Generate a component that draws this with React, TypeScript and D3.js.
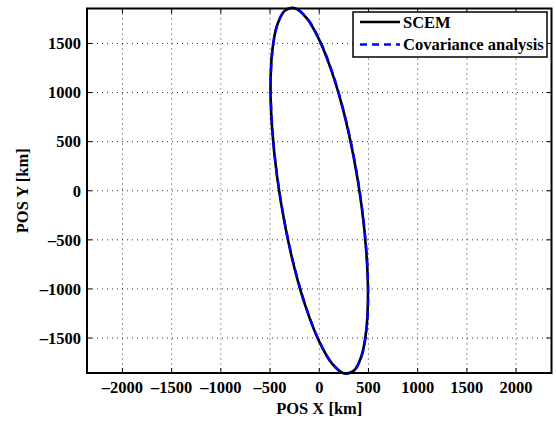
import React from "react";
import * as d3 from "d3";

const xTicks = [-2000, -1500, -1000, -500, 0, 500, 1000, 1500, 2000];
const yTicks = [-1500, -1000, -500, 0, 500, 1000, 1500];

// Orbit ellipse points (km)
const scemX = [495, 478, 429, 350, 248, 128, 0, -128, -248, -350, -429, -478, -495, -478, -429, -350, -248, -128, 0, 128, 248, 350, 429, 478];
const scemY = [-1056, -622, -146, 340, 803, 1211, 1537, 1758, 1859, 1834, 1683, 1418, 1056, 622, 146, -340, -803, -1211, -1537, -1758, -1859, -1834, -1683, -1418];
const covX = [497, 480, 431, 352, 250, 130, 2, -126, -246, -348, -427, -476, -493, -476, -427, -348, -246, -126, 2, 130, 250, 352, 431, 480];
const covY = [-1054, -620, -144, 342, 805, 1213, 1539, 1760, 1860, 1835, 1684, 1419, 1057, 623, 147, -339, -802, -1210, -1536, -1757, -1858, -1833, -1682, -1417];

const legendLabels = ["SCEM", "Covariance analysis"];

const W = 556, H = 424;
const M = { left: 87, right: 551.5, top: 8.5, bottom: 373 };
const FONT = "Liberation Serif";

export default function App() {
  const x = d3.scaleLinear().domain([-2360, 2360]).range([M.left, M.right]);
  const y = d3.scaleLinear().domain([-1856, 1856]).range([M.bottom, M.top]);
  const line = d3.line<[number, number]>().x(d => x(d[0])).y(d => y(d[1])).curve(d3.curveCatmullRomClosed);
  const scem = line(scemX.map((v, i) => [v, scemY[i]]) as [number, number][]) || "";
  const cov = line(covX.map((v, i) => [v, covY[i]]) as [number, number][]) || "";
  const tl = 5;
  const fs = 16.5;
  const lg = { x0: 353, x1: 547, y0: 12, y1: 57 };
  const rows = [22, 44.5];
  const fmt = (t: number) => (t < 0 ? "\u2013" + Math.abs(t) : String(t));
  return (
    <svg width={W} height={H} style={{ position: "absolute", left: 0, top: 0, background: "#fff" }} fontFamily={FONT}>
      <rect x={0} y={0} width={W} height={H} fill="#fff" />
      {xTicks.map(t => (
        <line key={"gx" + t} x1={x(t)} x2={x(t)} y1={M.top} y2={M.bottom} stroke="#000" strokeWidth={0.8} strokeDasharray="1,4" />
      ))}
      {yTicks.map(t => (
        <line key={"gy" + t} x1={M.left} x2={M.right} y1={y(t)} y2={y(t)} stroke="#000" strokeWidth={0.8} strokeDasharray="1,4" />
      ))}
      <path d={scem} fill="none" stroke="#000" strokeWidth={2.6} />
      <path d={cov} fill="none" stroke="#0000ff" strokeWidth={2.4} strokeDasharray="8,5" />
      {xTicks.map(t => (
        <g key={"tx" + t}>
          <line x1={x(t)} x2={x(t)} y1={M.bottom} y2={M.bottom - tl} stroke="#000" strokeWidth={1} />
          <line x1={x(t)} x2={x(t)} y1={M.top} y2={M.top + tl} stroke="#000" strokeWidth={1} />
          <text x={x(t)} y={393} textAnchor="middle" fontSize={fs} fontWeight="bold">{fmt(t)}</text>
        </g>
      ))}
      {yTicks.map(t => (
        <g key={"ty" + t}>
          <line x1={M.left} x2={M.left + tl} y1={y(t)} y2={y(t)} stroke="#000" strokeWidth={1} />
          <line x1={M.right} x2={M.right - tl} y1={y(t)} y2={y(t)} stroke="#000" strokeWidth={1} />
          <text x={81} y={y(t)} dy="0.35em" textAnchor="end" fontSize={fs} fontWeight="bold">{fmt(t)}</text>
        </g>
      ))}
      <rect x={M.left} y={M.top} width={M.right - M.left} height={M.bottom - M.top} fill="none" stroke="#000" strokeWidth={2} />
      <text x={(M.left + M.right) / 2} y={414} textAnchor="middle" fontSize={fs} fontWeight="bold">POS X [km]</text>
      <text transform={`translate(28,${(M.top + M.bottom) / 2}) rotate(-90)`} textAnchor="middle" fontSize={fs} fontWeight="bold">POS Y [km]</text>
      <rect x={lg.x0} y={lg.y0} width={lg.x1 - lg.x0} height={lg.y1 - lg.y0} fill="#fff" stroke="#000" strokeWidth={1.5} />
      <line x1={360} x2={400} y1={rows[0]} y2={rows[0]} stroke="#000" strokeWidth={2.6} />
      <line x1={360} x2={400} y1={rows[1]} y2={rows[1]} stroke="#0000ff" strokeWidth={2.4} strokeDasharray="7,5" />
      {legendLabels.map((l, i) => (
        <text key={l} x={403} y={rows[i]} dy="0.35em" fontSize={fs} fontWeight="bold">{l}</text>
      ))}
    </svg>
  );
}
